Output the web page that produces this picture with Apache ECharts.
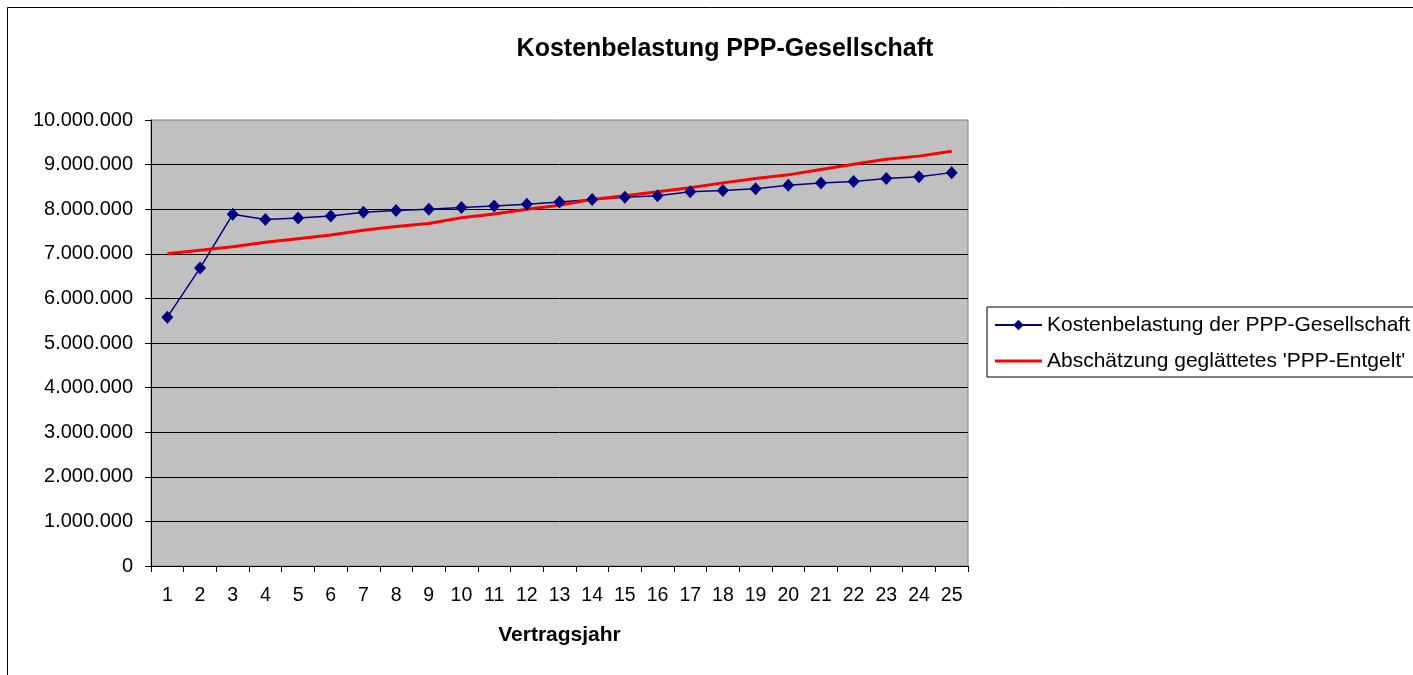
<!DOCTYPE html>
<html>
<head>
<meta charset="utf-8">
<title>Kostenbelastung PPP-Gesellschaft</title>
<script src="https://cdn.jsdelivr.net/npm/echarts@6/dist/echarts.min.js"></script>
<style>
  html, body { margin: 0; padding: 0; background: #fff; }
  #chart { width: 1413px; height: 675px; }
</style>
</head>
<body>
<div id="chart"></div>
<script>
// Vertragsjahre 1..25
const years = ['1', '2', '3', '4', '5', '6', '7', '8', '9', '10', '11', '12', '13',
  '14', '15', '16', '17', '18', '19', '20', '21', '22', '23', '24', '25']

// Kostenbelastung der PPP-Gesellschaft
const kosten = [5580000, 6680000, 7885000, 7770000, 7800000, 7850000, 7930000, 7970000,
  8000000, 8040000, 8070000, 8110000, 8160000, 8220000, 8270000, 8300000, 8390000,
  8420000, 8460000, 8535000, 8590000, 8620000, 8690000, 8730000, 8820000]

// Abschätzung geglättetes 'PPP-Entgelt'
const entgelt = [7000000, 7080000, 7160000, 7260000, 7340000, 7420000, 7530000, 7610000,
  7680000, 7810000, 7890000, 8000000, 8090000, 8220000, 8300000, 8390000, 8480000,
  8590000, 8690000, 8770000, 8890000, 9010000, 9120000, 9190000, 9300000]

const seriesNames = ['Kostenbelastung der PPP-Gesellschaft', "Abschätzung geglättetes 'PPP-Entgelt'"]

const FONT = "'Liberation Sans', Arial, sans-serif"

// 10000000 -> 10.000.000
function formatDe(v) {
  return String(v).replace(/\B(?=(\d{3})+(?!\d))/g, '.')
}

let chart = echarts.init(document.getElementById('chart'))
let option = {
  backgroundColor: '#fff',
  textStyle: { fontFamily: FONT },
  animation: false,
  // Rahmen um das ganze Diagramm (rechts/unten abgeschnitten)
  graphic: [
    {
      type: 'rect',
      shape: { x: 7.5, y: 7.5, width: 2000, height: 2000 },
      style: { fill: 'none', stroke: '#000', lineWidth: 1 },
      silent: true,
      z: -10
    }
  ],
  title: {
    text: 'Kostenbelastung PPP-Gesellschaft',
    left: 720,
    top: 32,
    textAlign: 'center',
    textStyle: { fontFamily: FONT, fontSize: 25, fontWeight: 'bold', color: '#000' }
  },
  legend: {
    orient: 'vertical',
    left: 987,
    top: 307,
    padding: [6, 7, 4, 7],
    itemGap: 12,
    itemWidth: 47,
    itemHeight: 13,
    align: 'left',
    borderColor: '#000',
    borderWidth: 1,
    textStyle: { fontFamily: FONT, fontSize: 21, color: '#000', lineHeight: 24 },
    data: [
      { name: seriesNames[0] },
      // nur eine rote Linie, kein Symbol
      { name: seriesNames[1], icon: 'path://M0,0 L47,0 L47,3 L0,3 Z' }
    ]
  },
  grid: {
    left: 151,
    top: 120,
    width: 817,
    height: 446,
    show: true,
    backgroundColor: '#C0C0C0',
    borderColor: '#808080',
    borderWidth: 1
  },
  xAxis: {
    type: 'category',
    data: years,
    boundaryGap: true,
    name: 'Vertragsjahr',
    nameLocation: 'middle',
    nameGap: 59,
    nameTextStyle: { fontFamily: FONT, fontSize: 21, fontWeight: 'bold', color: '#000' },
    axisLine: { lineStyle: { color: '#000', width: 1 } },
    axisTick: { show: true, length: 6, lineStyle: { color: '#000' } },
    axisLabel: { interval: 0, margin: 20, fontFamily: FONT, fontSize: 19.5, color: '#000' },
    splitLine: { show: false }
  },
  yAxis: {
    type: 'value',
    min: 0,
    max: 10000000,
    interval: 1000000,
    axisLine: { show: true, lineStyle: { color: '#000', width: 1 } },
    axisTick: { show: true, length: 6, lineStyle: { color: '#000' } },
    axisLabel: {
      margin: 18,
      fontFamily: FONT,
      fontSize: 20,
      color: '#000',
      formatter: formatDe
    },
    splitLine: { show: true, showMaxLine: false, lineStyle: { color: '#000', width: 1 } }
  },
  series: [
    {
      name: seriesNames[0],
      type: 'line',
      data: kosten,
      symbol: 'diamond',
      symbolSize: [12, 13],
      itemStyle: { color: '#000080' },
      lineStyle: { color: '#000080', width: 1.5 }
    },
    {
      name: seriesNames[1],
      type: 'line',
      data: entgelt,
      showSymbol: false,
      symbol: 'none',
      itemStyle: { color: '#FF0000' },
      lineStyle: { color: '#FF0000', width: 3 }
    }
  ]
}
chart.setOption(option)
</script>
</body>
</html>
